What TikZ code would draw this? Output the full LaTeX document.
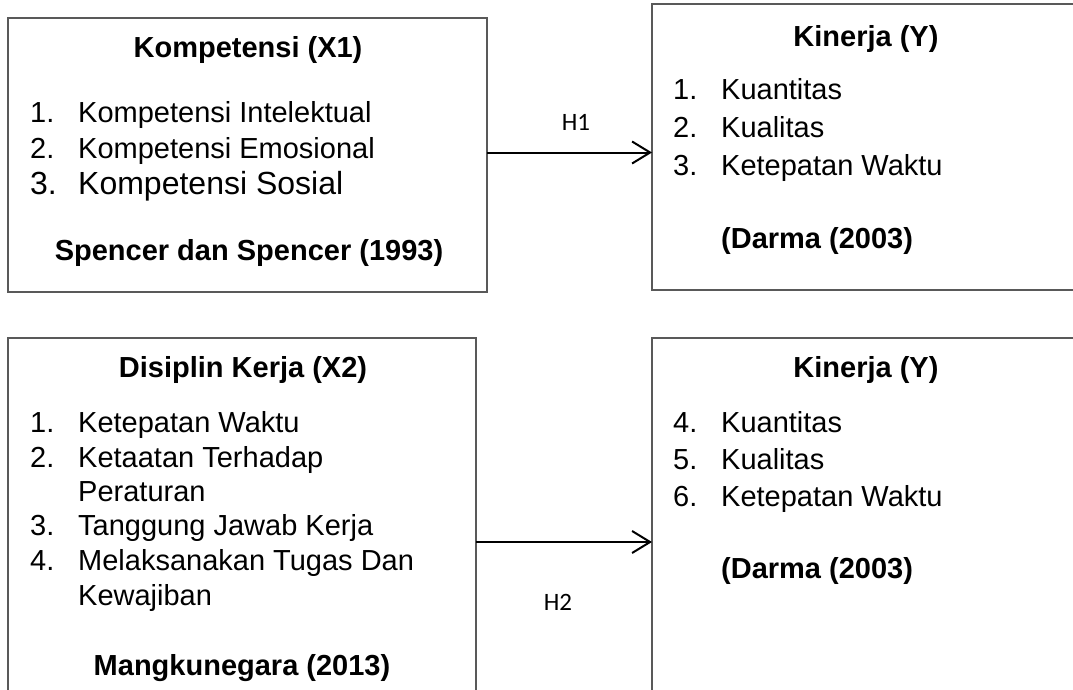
\documentclass[tikz,border=0pt]{standalone}
\usepackage{fontspec}
\setmainfont{Liberation Sans}
\newfontfamily\calib{Carlito}
\usetikzlibrary{arrows.meta}
\definecolor{bordergray}{HTML}{595959}
\tikzset{
  box/.style={draw=bordergray, line width=2pt, rectangle, inner sep=0pt, outer sep=0pt, anchor=north west},
  txt/.style={inner sep=0pt, anchor=base west, font=\fontsize{29pt}{35pt}\selectfont},
  txtbig/.style={inner sep=0pt, anchor=base west, font=\fontsize{32pt}{38pt}\selectfont},
  ttl/.style={inner sep=0pt, anchor=base, font=\fontsize{29pt}{35pt}\selectfont\bfseries},
  ttlw/.style={inner sep=0pt, anchor=base west, font=\fontsize{29pt}{35pt}\selectfont\bfseries},
  hyp/.style={inner sep=0pt, anchor=center, font=\fontsize{25pt}{30pt}\selectfont\calib},
  arr/.style={draw=black, line width=2pt, -{Straight Barb[length=18pt,width=22pt]}}
}
\begin{document}
\begin{tikzpicture}[x=1pt,y=-1pt]
\useasboundingbox (0,0) rectangle (1073,690);
\clip (0,0) rectangle (1073,690);
% boxes
\node[box, minimum width=479pt, minimum height=274pt] (b1) at (8,18) {};
\node[box, minimum width=438pt, minimum height=286pt] (b2) at (652,4) {};
\node[box, minimum width=468pt, minimum height=408pt] (b3) at (8,338) {};
\node[box, minimum width=438pt, minimum height=408pt] (b4) at (652,338) {};
% box 1 text
\node[ttl] (t1) at (248,57.5) {Kompetensi (X1)};
\node[txt] (n11) at (30,123) {1.};
\node[txt] (i11) at (78,123) {Kompetensi Intelektual};
\node[txt] (n12) at (30,158) {2.};
\node[txt] (i12) at (78,158) {Kompetensi Emosional};
\node[txtbig] (n13) at (30,194) {3.};
\node[txtbig] (i13) at (78,194) {Kompetensi Sosial};
\node[ttl] (s1) at (249,260) {Spencer dan Spencer (1993)};
% box 2 text
\node[ttl] (t2) at (866,47) {Kinerja (Y)};
\node[txt] (n21) at (673,100) {1.};
\node[txt] (i21) at (721,100) {Kuantitas};
\node[txt] (n22) at (673,138) {2.};
\node[txt] (i22) at (721,138) {Kualitas};
\node[txt] (n23) at (673,175) {3.};
\node[txt] (i23) at (721,175) {Ketepatan Waktu};
\node[ttlw] (s2) at (721,248) {(Darma (2003)};
% box 3 text
\node[ttl] (t3) at (243,377) {Disiplin Kerja (X2)};
\node[txt] (n31) at (30,432) {1.};
\node[txt] (i31) at (78,432) {Ketepatan Waktu};
\node[txt] (n32) at (30,467) {2.};
\node[txt] (i32) at (78,467) {Ketaatan Terhadap};
\node[txt] (i32b) at (78,501) {Peraturan};
\node[txt] (n33) at (30,535) {3.};
\node[txt] (i33) at (78,535) {Tanggung Jawab Kerja};
\node[txt] (n34) at (30,570) {4.};
\node[txt] (i34) at (78,570) {Melaksanakan Tugas Dan};
\node[txt] (i34b) at (78,605) {Kewajiban};
\node[ttl] (s3) at (242,675) {Mangkunegara (2013)};
% box 4 text
\node[ttl] (t4) at (866,377) {Kinerja (Y)};
\node[txt] (n41) at (673,432) {4.};
\node[txt] (i41) at (721,432) {Kuantitas};
\node[txt] (n42) at (673,469) {5.};
\node[txt] (i42) at (721,469) {Kualitas};
\node[txt] (n43) at (673,506) {6.};
\node[txt] (i43) at (721,506) {Ketepatan Waktu};
\node[ttlw] (s4) at (721,578) {(Darma (2003)};
% arrows
\coordinate (a1) at ([yshift=2.5pt]b1.east);
\draw[arr] (a1) -- (a1 -| b2.west);
\draw[arr] (b3.east) -- (b4.west);
\node[hyp] (h1) at (576,122) {H1};
\node[hyp] (h2) at (558,602) {H2};
\end{tikzpicture}
\end{document}
